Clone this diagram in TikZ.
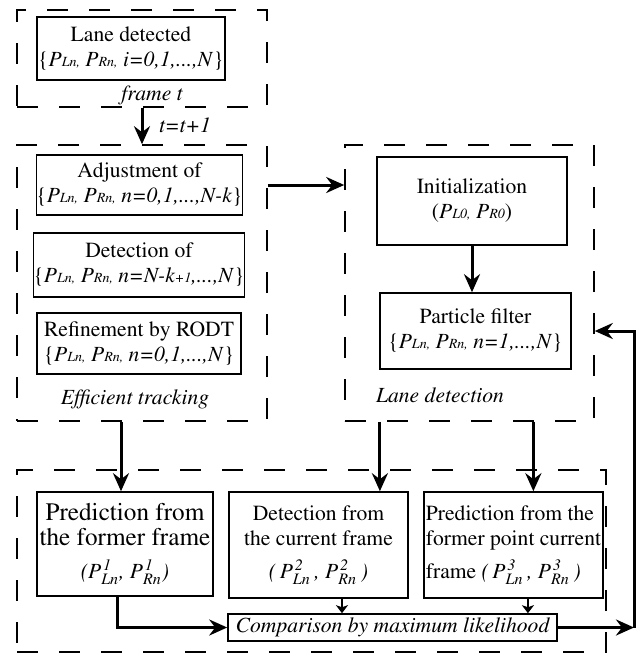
\documentclass[tikz,border=0pt]{standalone}
\usepackage{amsmath}
\usepackage[T1]{fontenc}
\usepackage{mathptmx}
\usetikzlibrary{arrows.meta}
\usetikzlibrary{positioning}
\usetikzlibrary{calc}
\newcommand{\lanepts}[1]{\{\textit{P}{\scriptsize\textit{Ln,}} \textit{P}{\scriptsize\textit{Rn,}} \textit{#1}\}}
\newcommand{\lanepair}[2]{\textit{(}#2$\textit{P}^{\,\textit{#1}}_{\textit{Ln}}$#2\textit{,}~$\textit{P}^{\,\textit{#1}}_{\textit{Rn}}$#2\textit{)}}
\newcommand{\bigln}{\fontsize{12.6}{13.5}\selectfont}

\begin{document}
\begin{tikzpicture}[
        x=0.5pt, y=-0.5pt,
        every node/.style={font=\fontsize{10.8}{12.5}\selectfont},
        stage/.style={rectangle,draw=black,line width=0.8pt,inner sep=0pt,align=center},
        group/.style={rectangle,draw=black,line width=0.8pt,dash pattern=on 10.5pt off 10.5pt,inner sep=0pt},
        caption/.style={font=\fontsize{10.8}{12.5}\selectfont\itshape},
        flow/.style={line width=1.5pt,-{Stealth[length=9pt,width=8pt,inset=3pt]}},
        feed/.style={line width=1pt,-{Stealth[length=4pt,width=6pt,inset=1pt]}}
      ]
      \useasboundingbox (0,0) rectangle (640,655);
      % dashed groups
      \node[group,minimum width=125pt,minimum height=48.5pt] (frameT) at (142,58.5) {};
      \node[group,minimum width=125pt,minimum height=138pt] (track) at (142,283) {};
      \node[group,minimum width=124.5pt,minimum height=138pt] (lanedet) at (469.5,283) {};
      \node[group,minimum width=294.5pt,minimum height=91pt] (compbox) at (311.5,561) {};

      % previous frame
      \node[stage,minimum width=94pt,minimum height=31.5pt] (lane) at (131,48.5)
        {Lane detected\\\lanepts{i=0,1,...,N}};
      \node[caption] (frameLbl) at (152,95) {frame t};
      \node[caption] (stepLbl) at (185,125) {t=t+1};

      % efficient tracking
      \node[stage,minimum width=102.5pt,minimum height=30pt] (adjust) at (139.5,185)
        {Adjustment of\\\lanepts{n=0,1,...,N-k}};
      \node[stage,minimum width=103pt,minimum height=32pt] (detect) at (139,265)
        {Detection of\\\lanepts{n=N-k{\scriptsize+1},...,N}};
      \node[stage,minimum width=102pt,minimum height=30.5pt] (refine) at (139,343.5)
        {Refinement by RODT\\\lanepts{n=0,1,...,N}};
      \node[caption] (trackLbl) at (135,399) {Efficient tracking};

      % lane detection
      \node[stage,minimum width=95pt,minimum height=44pt] (init) at (472,201)
        {Initialization\\(\textit{P}{\scriptsize\textit{L0,}} \textit{P}{\scriptsize\textit{R0}})};
      \node[stage,minimum width=95.5pt,minimum height=38pt] (pfilter) at (475.5,331)
        {Particle filter\\\lanepts{n=1,...,N}};
      \node[caption] (laneLbl) at (440,395) {Lane detection};

      % candidates and comparison
      \node[stage,minimum width=88pt,minimum height=52pt] (pred) at (125,544)
        {{\bigln Prediction from}\\{\bigln the former frame}\\[4pt]\lanepair{1}{}};
      \node[stage,minimum width=89.5pt,minimum height=53pt] (detcur) at (318.5,545)
        {Detection from\\the current frame\\[4pt]\lanepair{2}{\,}};
      \node[stage,minimum width=89.5pt,minimum height=53pt,align=left] (predpt) at (513.5,545)
        {Prediction from the\\former point current\\[4pt]frame \lanepair{3}{\,}};
      \node[stage,minimum width=164.5pt,minimum height=13.5pt,font=\fontsize{10.8}{12.5}\selectfont\itshape] (compare) at (392.5,627.5)
        {Comparison by maximum likelihood};

      % connections
      \draw[flow] (frameT.south) -- (track.north);
      \draw[flow] (track.east |- adjust) -- (lanedet.west |- adjust);
      \draw[flow] (init.south) -- (init.south |- pfilter.north);
      \draw[flow] ([xshift=-2pt]pred.north |- track.south) -- ([xshift=-2pt]pred.north);
      \coordinate (detIn) at ($(detcur.north west)!0.84!(detcur.north east)$);
      \draw[flow] (detIn |- lanedet.south) -- (detIn);
      \coordinate (ptIn) at ($(predpt.north west)!0.61!(predpt.north east)$);
      \draw[flow] (ptIn |- lanedet.south) -- (ptIn);
      \draw[flow] ([xshift=-4pt]pred.south) |- (compare.west);
      \coordinate (detOut) at ($(detcur.south west)!0.63!(detcur.south east)$);
      \draw[feed] (detOut) -- (detOut |- compare.north);
      \coordinate (ptOut) at ($(predpt.south west)!0.58!(predpt.south east)$);
      \draw[feed] (ptOut) -- (ptOut |- compare.north);
      \coordinate (loop) at (634,627.5);
      \draw[flow] (compare.east) -- (loop);
      \draw[flow] (loop) |- (lanedet.east |- pfilter.east);
    \end{tikzpicture}
\end{document}
